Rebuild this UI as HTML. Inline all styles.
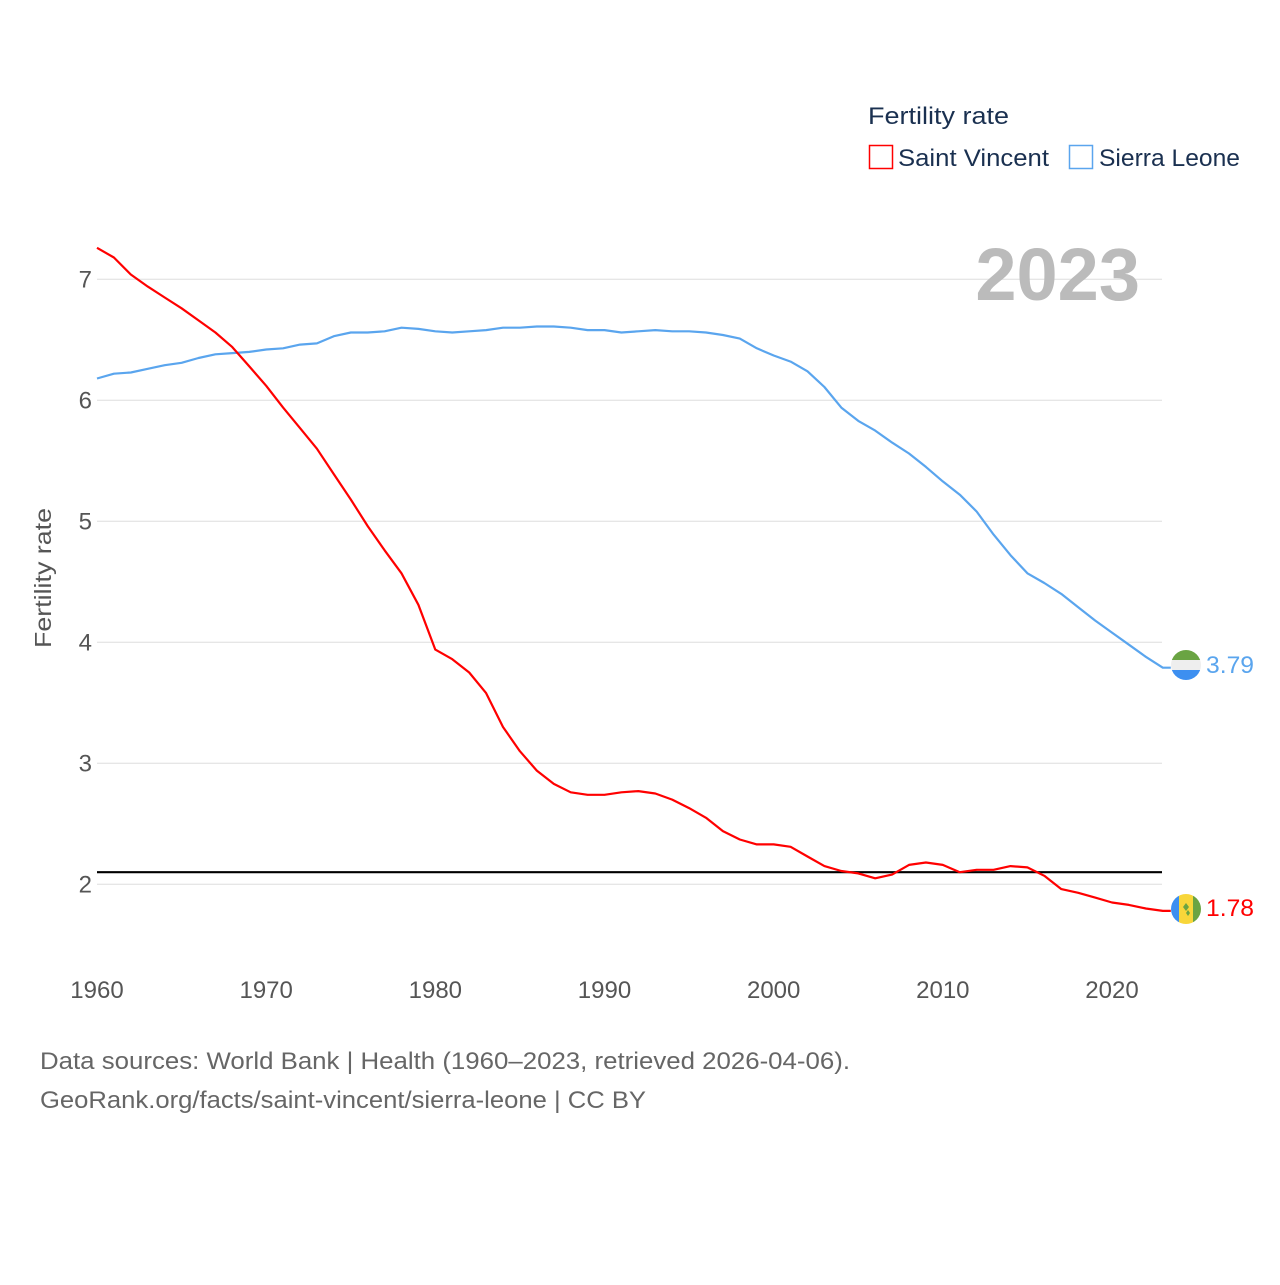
<!DOCTYPE html>
<html><head><meta charset="utf-8"><style>
body{margin:0;background:#fff;}
svg text{font-family:"Liberation Sans",sans-serif;}
</style></head><body>
<svg id="chart" width="1280" height="1280" xmlns="http://www.w3.org/2000/svg">
<g id="grid"></g>
<g id="yt"></g>
<g id="xt"></g>
<text transform="translate(51,578) rotate(-90)" text-anchor="middle" font-size="23" fill="#555" textLength="140" lengthAdjust="spacingAndGlyphs">Fertility rate</text>
<text x="1140" y="300" text-anchor="end" font-size="74" font-weight="bold" fill="#bbb">2023</text>
<g id="series"></g>
<g>
<text x="868" y="124" font-size="24" fill="#1a3050" textLength="141" lengthAdjust="spacingAndGlyphs">Fertility rate</text>
<rect x="869.5" y="145.5" width="23" height="23" fill="none" stroke="#f00" stroke-width="1.5"/>
<text x="898" y="166" font-size="24" fill="#1a3050" textLength="151" lengthAdjust="spacingAndGlyphs">Saint Vincent</text>
<rect x="1069.5" y="145.5" width="23" height="23" fill="none" stroke="#5aa5ee" stroke-width="1.5"/>
<text x="1099" y="166" font-size="24" fill="#1a3050" textLength="141" lengthAdjust="spacingAndGlyphs">Sierra Leone</text>
</g>
<defs>
<clipPath id="c1"><circle cx="1186" cy="665" r="15"/></clipPath>
<clipPath id="c2"><circle cx="1186" cy="909" r="15"/></clipPath>
</defs>
<g clip-path="url(#c1)">
<rect x="1171" y="650" width="30" height="10" fill="#6aa443"/>
<rect x="1171" y="660" width="30" height="10" fill="#eee"/>
<rect x="1171" y="670" width="30" height="10" fill="#3d8ff0"/>
</g>
<g clip-path="url(#c2)">
<rect x="1171" y="894" width="8" height="30" fill="#3d8ff0"/>
<rect x="1179" y="894" width="14" height="30" fill="#f8d63a"/>
<rect x="1193" y="894" width="8" height="30" fill="#6aa443"/>
<path d="M1183 907l3-4 3 4-3 4zM1186 913l2-3 2 3-2 3z" fill="#6aa443"/>
</g>
<text x="1206" y="673" font-size="24" fill="#5aa5ee" textLength="48" lengthAdjust="spacingAndGlyphs">3.79</text>
<text x="1206" y="916" font-size="24" fill="#f00" textLength="48" lengthAdjust="spacingAndGlyphs">1.78</text>
<text x="40" y="1069" font-size="24" fill="#666" textLength="810" lengthAdjust="spacingAndGlyphs">Data sources: World Bank | Health (1960–2023, retrieved 2026-04-06).</text>
<text x="40" y="1108" font-size="24" fill="#666" textLength="606" lengthAdjust="spacingAndGlyphs">GeoRank.org/facts/saint-vincent/sierra-leone | CC BY</text>
</svg>
<script>
const startYear = 1960;
const saintVincent = [7.26,7.18,7.04,6.94,6.85,6.76,6.66,6.56,6.44,6.28,6.12,5.94,5.77,5.60,5.39,5.18,4.96,4.76,4.57,4.31,3.94,3.86,3.75,3.58,3.30,3.10,2.94,2.83,2.76,2.74,2.74,2.76,2.77,2.75,2.70,2.63,2.55,2.44,2.37,2.33,2.33,2.31,2.23,2.15,2.11,2.09,2.05,2.08,2.16,2.18,2.16,2.10,2.12,2.12,2.15,2.14,2.07,1.96,1.93,1.89,1.85,1.83,1.80,1.78];
const sierraLeone = [6.18,6.22,6.23,6.26,6.29,6.31,6.35,6.38,6.39,6.40,6.42,6.43,6.46,6.47,6.53,6.56,6.56,6.57,6.60,6.59,6.57,6.56,6.57,6.58,6.60,6.60,6.61,6.61,6.60,6.58,6.58,6.56,6.57,6.58,6.57,6.57,6.56,6.54,6.51,6.43,6.37,6.32,6.24,6.11,5.94,5.83,5.75,5.65,5.56,5.45,5.33,5.22,5.08,4.89,4.72,4.57,4.49,4.40,4.29,4.18,4.08,3.98,3.88,3.79];
const yTicks = [2,3,4,5,6,7];
const xTicks = [1960,1970,1980,1990,2000,2010,2020];
const replacementRate = [2.1];
const NS = "http://www.w3.org/2000/svg";
const x = yr => 97 + (yr - 1960) * (1015/60);
const y = v => 279.3 + (7 - v) * 121;
function mk(tag, attrs, parent){const e=document.createElementNS(NS,tag);for(const k in attrs)e.setAttribute(k,attrs[k]);parent.appendChild(e);return e;}
const grid=document.getElementById('grid'), yt=document.getElementById('yt'), xt=document.getElementById('xt'), ser=document.getElementById('series');
yTicks.forEach(v=>{
  const l=mk('line',{x1:97,x2:1162,y1:y(v),y2:y(v),stroke:'#e6e6e6','stroke-width':1.3},grid);
  
  
  const t=mk('text',{x:92,y:y(v)+8,'text-anchor':'end','font-size':24,fill:'#555'},yt);
  t.textContent=v;
  
  
});
xTicks.forEach(v=>{
  const t=mk('text',{x:x(v),y:998,'text-anchor':'middle','font-size':24,fill:'#555'},xt);
  t.textContent=v;
  
  
});
const rl=mk('line',{x1:97,x2:1162,y1:y(replacementRate[0]),y2:y(replacementRate[0]),stroke:'#000','stroke-width':2.2},ser);


function line(arr,color,name){
  const pts=arr.map((v,i)=>x(startYear+i).toFixed(1)+','+y(v).toFixed(1));
  const last=arr.length-1;
  pts.push((x(startYear+last)+8).toFixed(1)+','+y(arr[last]).toFixed(1));
  const p=mk('polyline',{points:pts.join(' '),fill:'none',stroke:color,'stroke-width':2.2,'stroke-linejoin':'round'},ser);
  
  
}
line(sierraLeone,'#5aa5ee','sierra-leone-line');
line(saintVincent,'#f00','saint-vincent-line');
</script>
</body></html>
